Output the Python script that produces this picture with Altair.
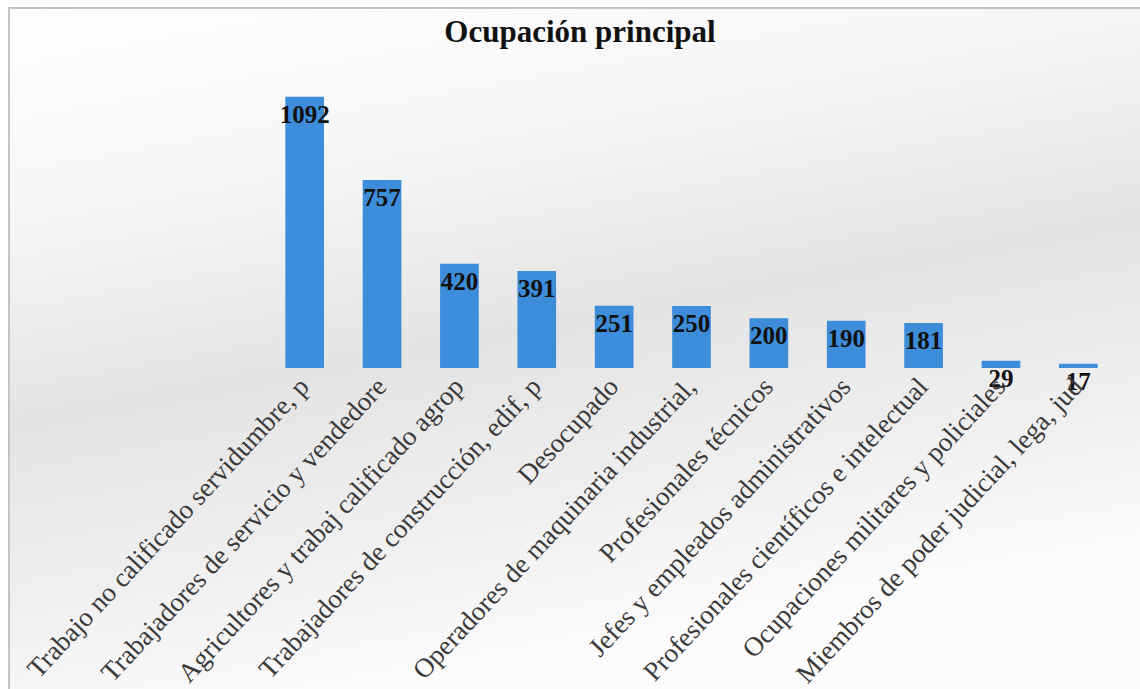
import altair as alt
import pandas as pd

categories = [
    "Trabajo no calificado servidumbre, p",
    "Trabajadores de servicio y vendedore",
    "Agricultores y trabaj calificado agrop",
    "Trabajadores de construcción, edif, p",
    "Desocupado",
    "Operadores de maquinaria industrial,",
    "Profesionales técnicos",
    "Jefes y empleados  administrativos",
    "Profesionales científicos e intelectual",
    "Ocupaciones militares y policiales",
    "Miembros de poder judicial, lega, jud",
]
values = [1092, 757, 420, 391, 251, 250, 200, 190, 181, 29, 17]
title_text = "Ocupación principal"

df = pd.DataFrame({"cat": categories, "val": values})

W, H = 851, 298
PL, PT = 266, 70

bg = alt.Chart(pd.DataFrame({"k": [0]})).mark_rect(
    color=alt.LinearGradient(
        gradient="linear", x1=0, y1=0, x2=0.3, y2=1,
        stops=[
            alt.GradientStop(offset=0, color="#ffffff"),
            alt.GradientStop(offset=0.3, color="#f5f5f5"),
            alt.GradientStop(offset=0.55, color="#e4e4e4"),
            alt.GradientStop(offset=0.8, color="#f0f0f0"),
            alt.GradientStop(offset=1, color="#fcfcfc"),
        ],
    ),
    stroke="#c4c4c4", strokeWidth=2,
).encode(
    x=alt.value(9 - PL), x2=alt.value(1150 - PL),
    y=alt.value(8 - PT), y2=alt.value(700 - PT),
)

title = alt.Chart(pd.DataFrame({"t": [title_text]})).mark_text(
    font="Liberation Serif", fontSize=31, fontWeight="bold", color="#111111",
    align="center", baseline="alphabetic",
).encode(text="t:N", x=alt.value(580 - PL), y=alt.value(42 - PT))

x_enc = alt.X(
    "cat:N", sort=categories, title=None,
    scale=alt.Scale(paddingInner=0.5, paddingOuter=0.25),
    axis=alt.Axis(
        labelAngle=-47, labelAlign="right", labelBaseline="middle",
        labelFont="Liberation Serif", labelFontSize=27, labelColor="#3a3a3a",
        labelPadding=14, labelLimit=800, domain=False, ticks=False, zindex=1,
    ),
)
y_enc = alt.Y("val:Q", scale=alt.Scale(domain=[0, 1200]), axis=None)

bars = alt.Chart(df).mark_bar(color="#3d8ddb").encode(x=x_enc, y=y_enc)
labels = alt.Chart(df).mark_text(
    baseline="top", dy=6, font="Liberation Serif", fontSize=25,
    fontWeight="bold", color="#111111",
).encode(x=alt.X("cat:N", sort=categories), y="val:Q", text="val:Q")

chart = alt.layer(bg, title, bars, labels).properties(
    width=W, height=H,
    autosize=alt.AutoSizeParams(type="none"),
    padding={"left": PL, "top": PT, "right": 1140 - PL - W, "bottom": 689 - PT - H},
).configure_view(stroke=None).configure(background="#ffffff")

chart.save("out.html", embed_options={"renderer": "svg", "actions": False})
